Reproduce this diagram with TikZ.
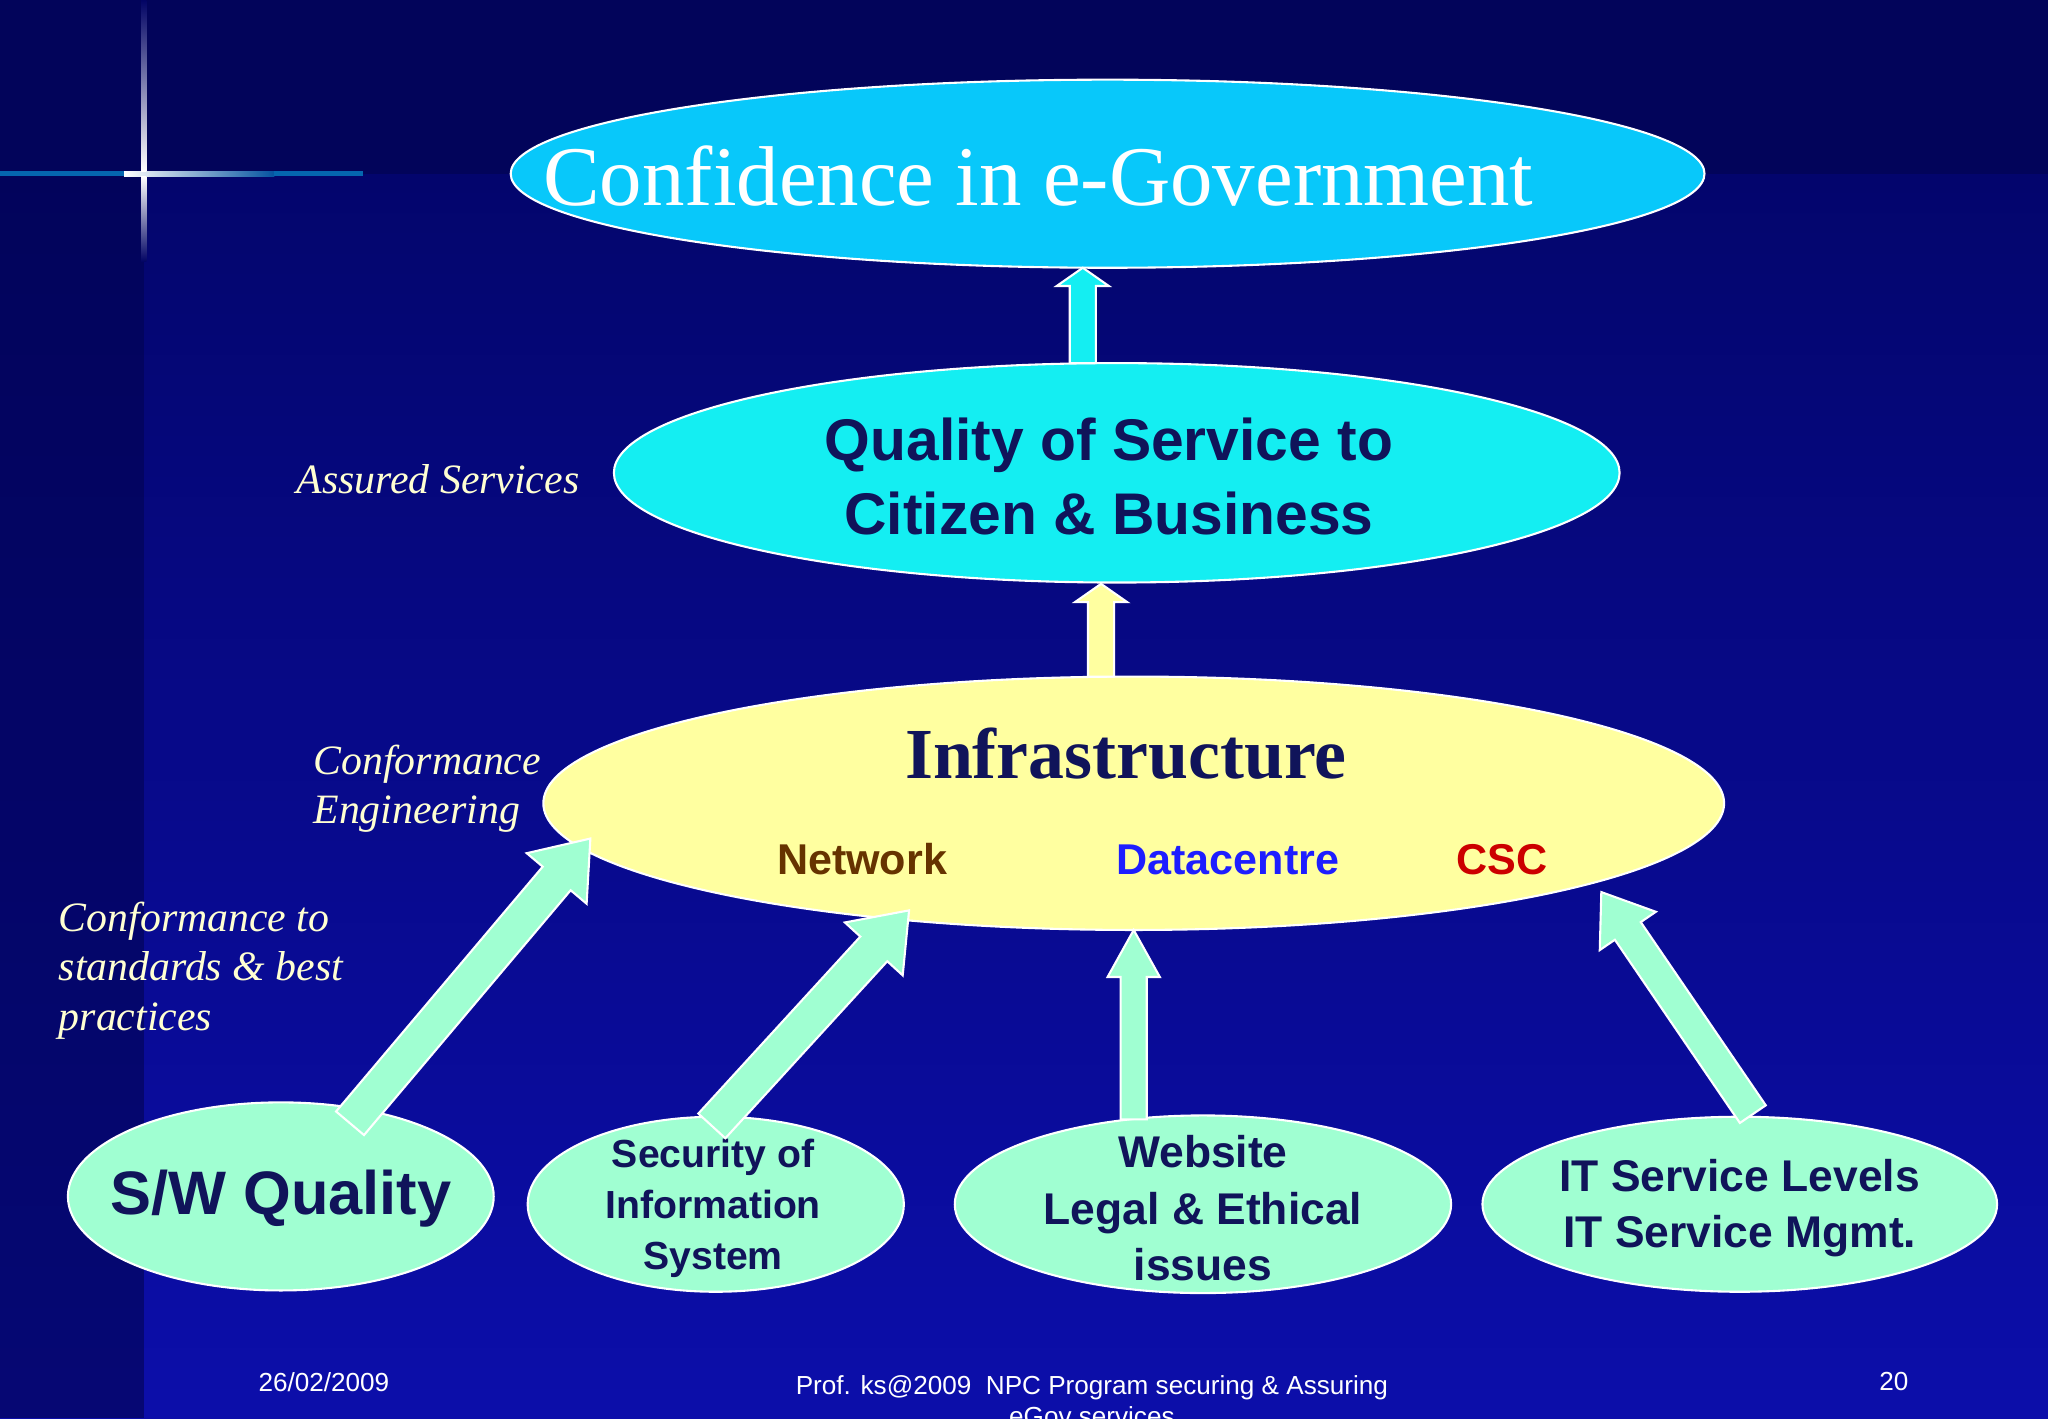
\documentclass[tikz,border=0pt]{standalone}
\usepackage{fontspec}
\setmainfont{Liberation Serif}
\setsansfont{Liberation Sans}
\usetikzlibrary{calc}
\definecolor{bgtop}{RGB}{2,4,100}
\definecolor{bgbot}{RGB}{12,14,170}
\definecolor{navy}{RGB}{16,20,90}
\definecolor{cyanA}{RGB}{8,200,250}
\definecolor{cyanB}{RGB}{20,238,242}
\definecolor{yel}{RGB}{255,255,160}
\definecolor{mint}{RGB}{160,255,210}
\definecolor{cream}{RGB}{255,255,210}
\definecolor{brown}{RGB}{102,51,0}
\definecolor{dblue}{RGB}{30,30,255}
\definecolor{dred}{RGB}{204,0,0}
\newcommand{\blockarrow}[6]{%
 \path ($(#2)!#5!(#1)$) coordinate (H);
 \filldraw[fill=#6,draw=white,line width=0.8pt,line join=miter]
  ($(#1)!#3!90:(#2)$) -- ($(H)!#3!90:(#2)$) -- ($(H)!#4!90:(#2)$) -- (#2)
  -- ($(H)!#4!-90:(#2)$) -- ($(H)!#3!-90:(#2)$) -- ($(#1)!#3!-90:(#2)$) -- cycle;}
\begin{document}
\begin{tikzpicture}[x=0.5pt,y=-0.5pt,
  lab/.style={text=cream,font=\itshape\fontsize{16}{19}\selectfont,align=left,anchor=west},
  foot/.style={text=white,font=\sffamily\fontsize{10}{12}\selectfont,align=center}]
\useasboundingbox (0,0) rectangle (1568,1086);
\shade[top color=bgtop,bottom color=bgbot] (0,0) rectangle (1568,1086);
\fill[bgtop!90!black] (0,0) rectangle (1568,133);
\fill[bgtop!80!black,opacity=0.6] (0,133) rectangle (110,1086);
\shade[left color=white,right color=cyanA!40!bgtop] (95,131) rectangle (210,135);
\fill[cyanA!50!bgtop] (0,131) rectangle (95,135);
\fill[cyanA!50!bgtop] (210,131) rectangle (278,135);
\shade[top color=bgtop,bottom color=white] (108,0) rectangle (112,131);
\shade[top color=white,bottom color=bgtop] (108,135) rectangle (112,200);

% ellipses
\fill[cyanA,draw=white,line width=0.8pt] (848,133) ellipse [x radius=457,y radius=72];
\node (conf) at (795,135) {\textcolor{white}{\fontsize{32.5}{38}\selectfont Confidence in e-Government}};
\fill[cyanB,draw=white,line width=0.8pt] (855,362) ellipse [x radius=385,y radius=84];
\node[align=center,text=navy,font=\sffamily\bfseries\fontsize{22.5}{28.5}\selectfont] (qos) at (849,365) {Quality of Service to\\ Citizen \& Business};
\fill[yel,draw=white,line width=0.8pt] (868,615) ellipse [x radius=452,y radius=97];
\node[text=navy,font=\bfseries\fontsize{27.5}{32}\selectfont] (infra) at (862,577) {Infrastructure};
\node[text=brown,font=\sffamily\bfseries\fontsize{16.5}{19}\selectfont] (net) at (660,658) {Network};
\node[text=dblue,font=\sffamily\bfseries\fontsize{16.5}{19}\selectfont] (dc) at (940,658) {Datacentre};
\node[text=dred,font=\sffamily\bfseries\fontsize{16.5}{19}\selectfont] (csc) at (1150,658) {CSC};

\fill[mint,draw=white,line width=0.8pt] (215,916) ellipse [x radius=163,y radius=72];
\fill[mint,draw=white,line width=0.8pt] (548,922) ellipse [x radius=144,y radius=67];
\fill[mint,draw=white,line width=0.8pt] (921,922) ellipse [x radius=190,y radius=68];
\fill[mint,draw=white,line width=0.8pt] (1332,922) ellipse [x radius=197,y radius=67];
\node[text=navy,font=\sffamily\bfseries\fontsize{23.5}{27}\selectfont] (sw) at (215,918) {S/W Quality};
\node[text=navy,align=center,font=\sffamily\bfseries\fontsize{15}{19.5}\selectfont] (sec) at (546,925) {Security of\\Information\\ System};
\node[text=navy,align=center,font=\sffamily\bfseries\fontsize{17}{21.5}\selectfont] (web) at (921,925) {Website\\Legal \& Ethical\\issues};
\node[text=navy,align=center,font=\sffamily\bfseries\fontsize{17}{21.5}\selectfont] (its) at (1332,925) {IT Service Levels\\IT Service Mgmt.};

% arrows
\coordinate (a1s) at (829,278); \coordinate (a1e) at (829,205);
\blockarrow{a1s}{a1e}{5pt}{10pt}{7pt}{cyanB}
\coordinate (a2s) at (843,518); \coordinate (a2e) at (843,447);
\blockarrow{a2s}{a2e}{5pt}{10pt}{7pt}{yel}
\coordinate (b1s) at (268,860); \coordinate (b1e) at (452,642);
\blockarrow{b1s}{b1e}{7pt}{15pt}{20pt}{mint}
\coordinate (b2s) at (545,862); \coordinate (b2e) at (696,697);
\blockarrow{b2s}{b2e}{7pt}{15pt}{20pt}{mint}
\coordinate (b3s) at (868,857); \coordinate (b3e) at (868,712);
\blockarrow{b3s}{b3e}{5pt}{10pt}{18pt}{mint}
\coordinate (b4s) at (1342,853); \coordinate (b4e) at (1226,683);
\blockarrow{b4s}{b4e}{6pt}{13pt}{18pt}{mint}

% side labels
\node[lab] (l1) at (220,367) {Assured Services};
\node[lab] (l2) at (233,604) {Conformance\\Engineering};
\node[lab] (l3) at (38,743) {Conformance to\\standards \& best\\practices};

% footer
\node[foot] (f1) at (248,1058) {26/02/2009};
\node[foot,anchor=north] (f2) at (836,1046) {Prof. ks@2009\ \ NPC Program securing \& Assuring\\eGov services};
\node[foot] (f3) at (1450,1058) {20};
\end{tikzpicture}
\end{document}
